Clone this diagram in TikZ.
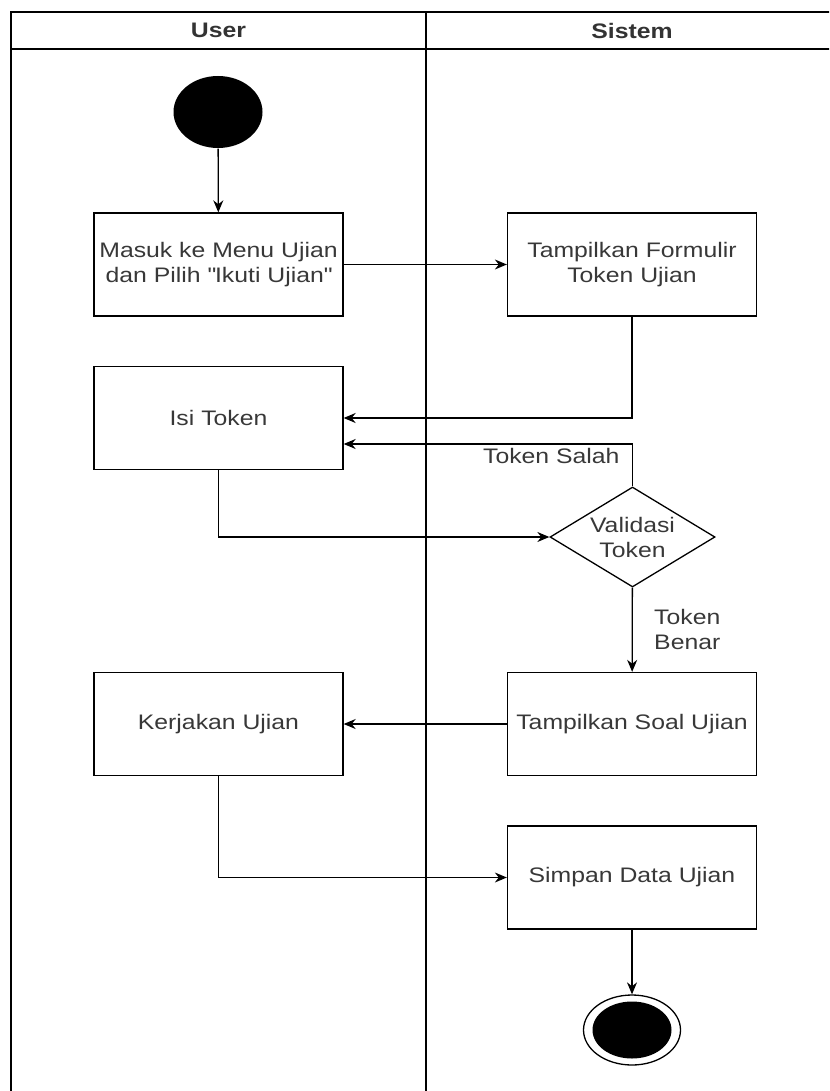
\documentclass[tikz,border=0pt]{standalone}
\usepackage{fontspec}
\setmainfont{Liberation Sans}[FakeStretch=1.18]
\usetikzlibrary{arrows.meta,shapes.geometric}
\begin{document}
\begin{tikzpicture}[x=1pt, y=-1pt, >={Stealth[length=12pt,width=10pt]}, line width=1.3pt,
        font=\fontsize{21}{25}\selectfont,
        act/.style={draw, rectangle, minimum width=249pt, minimum height=103pt, align=center, text=black!78},
        decide/.style={draw, diamond, aspect=1.65, inner sep=0pt, minimum width=165pt, minimum height=100pt, align=center, text=black!78},
        startdot/.style={ellipse, fill=black, minimum width=89pt, minimum height=72pt, inner sep=0pt},
        enddot/.style={draw, ellipse, fill=white, minimum width=97pt, minimum height=70pt, inner sep=0pt},
        endfill/.style={ellipse, fill=black, minimum width=79pt, minimum height=57pt, inner sep=0pt},
        lanename/.style={font=\fontsize{21}{25}\selectfont\bfseries, text=black!80},
        guard/.style={text=black!78, align=left}]
    \useasboundingbox (0,0) rectangle (829,1091);
    \clip (0,0) rectangle (829,1091);
    \draw (11,12) rectangle (845,1100);
    \draw (11,49) -- (845,49);
    \draw (426,12) -- (426,1100);
    \node[lanename] (user) at (218.5,30.5) {User};
    \node[lanename] (sistem) at (632,30.5) {Sistem};

    \node[startdot] (start) at (218,112) {};
    \node[act] (masuk) at (218.5,264.5) {Masuk ke Menu Ujian\\dan Pilih \textquotedbl Ikuti Ujian\textquotedbl};
    \node[act] (formulir) at (632,264.5) {Tampilkan Formulir\\Token Ujian};
    \node[act] (isi) at (218.5,418) {Isi Token};
    \node[decide] (validasi) at (632.5,537) {Validasi\\Token};
    \node[act] (soal) at (632,724) {Tampilkan Soal Ujian};
    \node[act] (kerjakan) at (218.5,724) {Kerjakan Ujian};
    \node[act] (simpan) at (632,877.5) {Simpan Data Ujian};
    \node[enddot] (end) at (632,1030) {};
    \node[endfill] (endin) at (end) {};

    \draw[->] (start) -- (masuk);
    \draw[->] (masuk) -- (formulir);
    \draw[->] (formulir) |- (isi);
    \draw[->] (validasi) |- ([yshift=-26pt]isi.east)
        node[pos=0.5, anchor=north east, xshift=-9pt, guard] {Token Salah};
    \draw[->] (isi) |- (validasi);
    \draw[->] (validasi) -- (soal)
        node[midway, anchor=west, xshift=18pt, guard] {Token\\Benar};
    \draw[->] (soal) -- (kerjakan);
    \draw[->] (kerjakan) |- (simpan);
    \draw[->] (simpan) -- (end);
\end{tikzpicture}
\end{document}
